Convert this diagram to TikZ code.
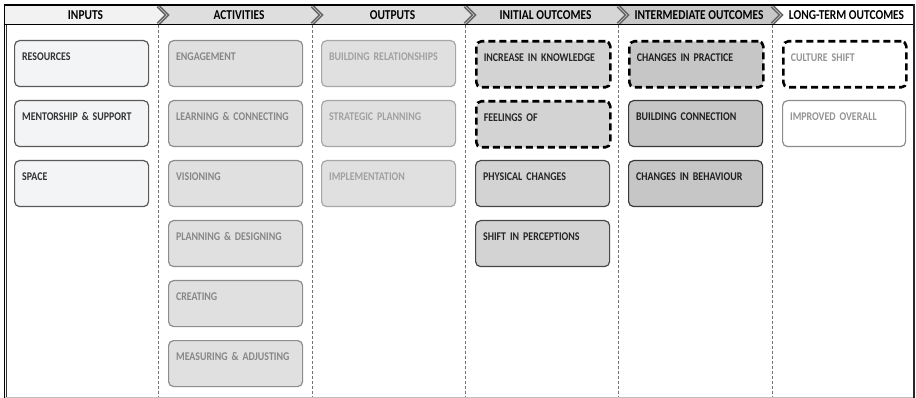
\documentclass[tikz,border=0pt]{standalone}
\usepackage{fontspec}
\setmainfont{Carlito}
\newfontfamily\narrowfont[FakeStretch=0.84]{Carlito}
\definecolor{inputfill}{HTML}{F3F4F6}
\definecolor{actfill}{HTML}{E0E0E0}
\definecolor{initfill}{HTML}{D3D3D3}
\definecolor{midfill}{HTML}{C6C6C6}
\definecolor{headone}{HTML}{F2F2F2}
\definecolor{headtwo}{HTML}{DEDEDE}
\definecolor{headfour}{HTML}{D6D6D6}
\definecolor{headfive}{HTML}{C8C8C8}
\begin{document}
\begin{tikzpicture}[x=1pt,y=-1pt,
  box/.style={rounded corners=5pt,line width=1.2pt,anchor=north west,
    inner xsep=7.5pt,inner ysep=0pt,text width=119pt,text height=20pt,text depth=26pt,
    align=left,font=\narrowfont\fontsize{11.8}{13}\selectfont\bfseries},
  inbox/.style={box,draw=black!65,fill=inputfill,text=black!80},
  actbox/.style={box,draw=black!45,fill=actfill,text=black!47},
  outbox/.style={box,draw=black!35,fill=actfill,text=black!37},
  initbox/.style={box,draw=black!72,fill=initfill,text=black!85},
  midbox/.style={box,draw=black!78,fill=midfill,text=black!88},
  longbox/.style={box,draw=black!45,fill=white,text=black!42,text width=108pt},
  dashbox/.style={draw=black,line width=2.6pt,dash pattern=on 7pt off 4pt},
  head/.style={font=\narrowfont\fontsize{13.6}{15}\selectfont\bfseries,inner sep=0pt},
  chev/.style={draw=black!60,line width=1.6pt,double=black!20,double distance=0.4pt},
  divider/.style={draw=black!55,line width=0.5pt,densely dashed}]
\useasboundingbox (0,0) rectangle (916,398);

% header band
\fill[headone] (5,6) -- (158,6) -- (167,15) -- (158,24) -- (5,24) -- cycle;
\fill[headtwo] (158,6) -- (312,6) -- (321,15) -- (312,24) -- (158,24) -- (167,15) -- cycle;
\fill[headtwo] (312,6) -- (465,6) -- (474,15) -- (465,24) -- (312,24) -- (321,15) -- cycle;
\fill[headfour] (465,6) -- (618,6) -- (627,15) -- (618,24) -- (465,24) -- (474,15) -- cycle;
\fill[headfive] (618,6) -- (772,6) -- (781,15) -- (772,24) -- (618,24) -- (627,15) -- cycle;
\fill[white] (772,6) -- (913,6) -- (913,24) -- (772,24) -- (781,15) -- cycle;
\draw[chev] (158,6) -- (167,15) -- (158,24);
\draw[chev] (312,6) -- (321,15) -- (312,24);
\draw[chev] (465,6) -- (474,15) -- (465,24);
\draw[chev] (618,6) -- (627,15) -- (618,24);
\draw[chev] (772,6) -- (781,15) -- (772,24);

% frame
\draw[line width=2pt] (3.5,5) -- (915,5);
\draw[line width=1.8pt] (3.5,24.5) -- (915,24.5);
\draw[line width=1pt] (4,4) -- (4,398);
\draw[line width=0.9pt,black!80] (6.5,25) -- (6.5,398);
\draw[line width=2pt,black!85] (914,4) -- (914,398);
\draw[line width=1.5pt,black!25] (5,397.3) -- (913,397.3);

% column dividers
\draw[divider] (158,25.5) -- (158,396.5);
\draw[divider] (312,25.5) -- (312,396.5);
\draw[divider] (465,25.5) -- (465,396.5);
\draw[divider] (618,25.5) -- (618,396.5);
\draw[divider] (772,25.5) -- (772,396.5);

% headings
\node[head] (hinput) at (85.5,15) {INPUTS};
\node[head] (hact) at (239,15) {ACTIVITIES};
\node[head] (hout) at (392.5,15) {OUTPUTS};
\node[head] (hinit) at (545.5,15) {INITIAL OUTCOMES};
\node[head] (hmid) at (699,15) {INTERMEDIATE OUTCOMES};
\node[head] (hlong) at (846.5,15) {LONG-TERM OUTCOMES};

% inputs
\node[inbox] (res) at (14,40) {RESOURCES};
\node[inbox] (mentor) at (14,100) {MENTORSHIP \& SUPPORT};
\node[inbox] (space) at (14,160) {SPACE};

% activities
\node[actbox] (engage) at (168,40) {ENGAGEMENT};
\node[actbox] (learn) at (168,100) {LEARNING \& CONNECTING};
\node[actbox] (vision) at (168,160) {VISIONING};
\node[actbox] (plan) at (168,220) {PLANNING \& DESIGNING};
\node[actbox] (create) at (168,280) {CREATING};
\node[actbox] (measure) at (168,340) {MEASURING \& ADJUSTING};

% outputs
\node[outbox] (relation) at (321,40) {BUILDING RELATIONSHIPS};
\node[outbox] (strategic) at (321,100) {STRATEGIC PLANNING};
\node[outbox] (implement) at (321,160) {IMPLEMENTATION};

% initial outcomes
\node[initbox,dashbox] (know) at (475,40) {INCREASE IN KNOWLEDGE};
\node[initbox,dashbox] (feel) at (475,100) {FEELINGS OF};
\node[initbox] (physical) at (475,160) {PHYSICAL CHANGES};
\node[initbox] (percept) at (475,220) {SHIFT IN PERCEPTIONS};

% intermediate outcomes
\node[midbox,dashbox] (practice) at (628,40) {CHANGES IN PRACTICE};
\node[midbox] (connect) at (628,100) {BUILDING CONNECTION};
\node[midbox] (behave) at (628,160) {CHANGES IN BEHAVIOUR};

% long-term outcomes
\node[longbox,dashbox] (culture) at (782,40) {CULTURE SHIFT};
\node[longbox] (overall) at (782,100) {IMPROVED OVERALL};
\end{tikzpicture}
\end{document}
